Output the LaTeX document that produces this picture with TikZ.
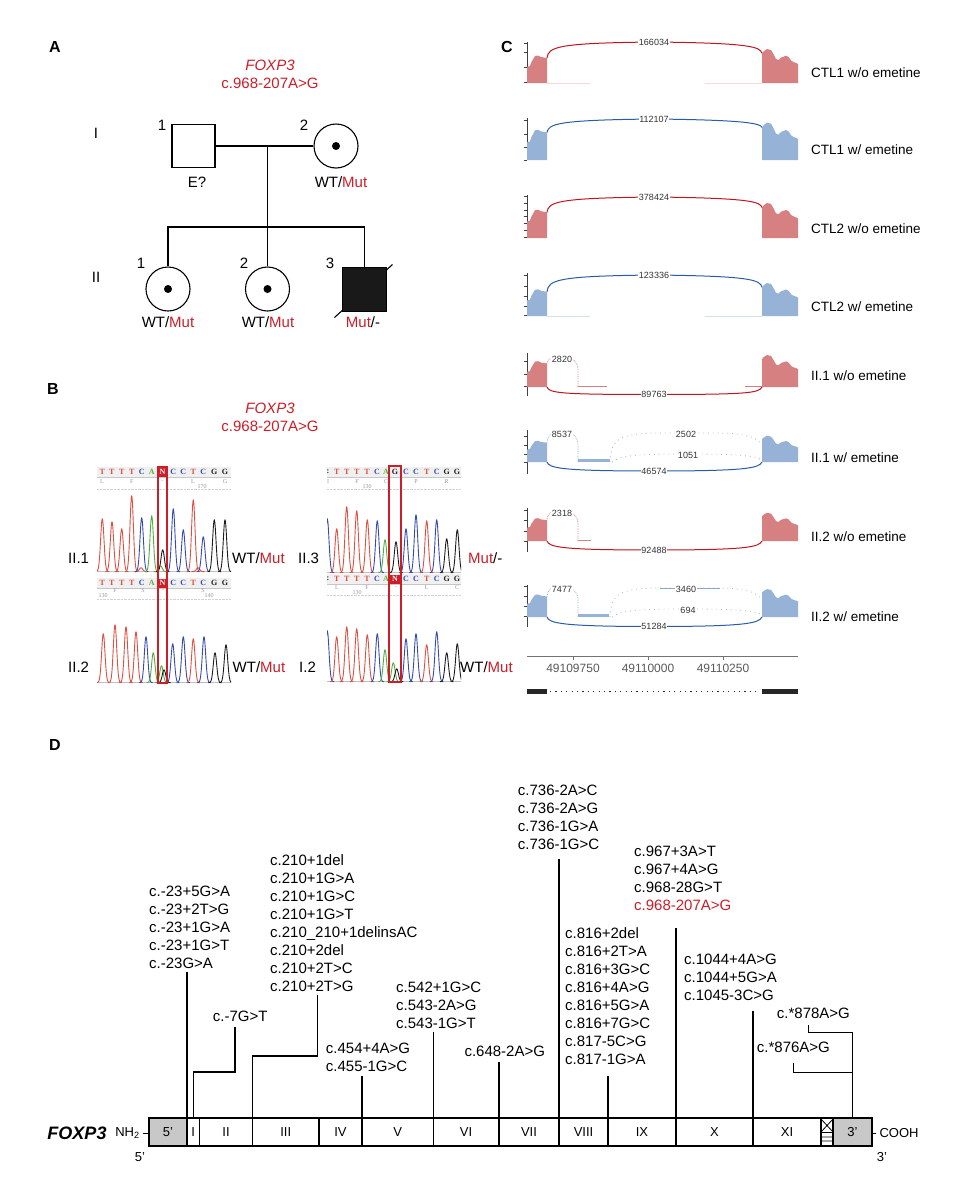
\documentclass[tikz,border=0pt]{standalone}
\usepackage{fontspec}
\setmainfont{Liberation Sans}
\newfontfamily\seqfont{Liberation Serif}
\usetikzlibrary{calc}
\definecolor{mutred}{RGB}{205,30,40}
\definecolor{sT}{RGB}{222,80,65}
\definecolor{sC}{RGB}{55,75,175}
\definecolor{sA}{RGB}{80,175,60}
\definecolor{sG}{RGB}{30,30,30}
\definecolor{fillR}{RGB}{214,128,130}
\definecolor{fillB}{RGB}{150,178,214}
\definecolor{arcR}{RGB}{190,22,32}
\definecolor{arcB}{RGB}{42,92,165}
\definecolor{boxgray}{RGB}{200,200,200}

\newcommand\pk[4]{\draw[#4, line width=.9pt, line join=round] plot[domain=-2.8:2.8, samples=21, smooth] ({#1+2.4*(\x)},{#2-#3*exp(-((\x)*(\x)))});}
\newcommand\hdr[3]{\foreach \xx/\ch/\cc [count=\k] in {#3} {\node[seq, text=\cc] (#2\k) at (\xx,#1) {\ch};}}
\newcommand\aarow[3]{\foreach \xx/\ch [count=\k] in {#3} {\node[aa] (#2\k) at (\xx,#1) {\ch};}}
\newcommand\cov[3]{%
\fill[#3] (527,#1) -- (527,{#1-16*#2}) -- (530,{#1-17*#2}) -- (531.5,{#1-21*#2}) -- (535,{#1-27*#2}) -- (538,{#1-27.5*#2}) -- (541,{#1-26*#2}) -- (544,{#1-25.5*#2}) -- (547,{#1-25*#2}) -- (547,#1) -- cycle;
\fill[#3] (762,#1) -- (762,{#1-29.7*#2}) -- (764,{#1-32*#2}) -- (767,{#1-34*#2}) -- (771,{#1-33*#2}) -- (773,{#1-29.7*#2}) -- (776,{#1-24*#2}) -- (778.5,{#1-23*#2}) -- (781,{#1-25.5*#2}) -- (784,{#1-26.5*#2}) -- (786,{#1-27.3*#2}) -- (788.5,{#1-26*#2}) -- (791.5,{#1-22*#2}) -- (794.5,{#1-20.5*#2}) -- (797,{#1-19.7*#2}) -- (798,{#1-18.7*#2}) -- (798,#1) -- cycle;}
\newcommand\toparc[5]{%
\draw[#3, line width=1pt] (547,{#1-25*#2}) .. controls (548.5,{#1-36}) and (556,{#1-40}) .. (654,{#1-41}) .. controls (752,{#1-40}) and (760,{#1-36}) .. (762,{#1-29.7*#2});
\node[num] (#5) at (654,{#1-41}) {#4};}
\newcommand\botarc[5]{%
\draw[#2, line width=1pt] (547,#1) .. controls (549,{#1+6}) and (560,{#1+#4}) .. (654,{#1+#4}) .. controls (748,{#1+#4}) and (759,{#1+6}) .. (762,#1);
\node[num] (#5) at (654,{#1+#4}) {#3};}
\newcommand\smallarc[5]{%
\draw[#3, densely dotted, line width=.7pt] (547,{#1-25*#2}) .. controls (548,{#1-29}) and (552,{#1-30}) .. (562,{#1-30}) .. controls (573,{#1-30}) and (577,{#1-26}) .. (578,{#1-18}) -- (578,#1);
\node[num] (#5) at (562,{#1-28}) {#4};}
\newcommand\longarcs[6]{%
\draw[#2, loosely dotted, line width=.8pt] (610,#1) .. controls (611,{#1-22}) and (618,{#1-29}) .. (660,{#1-29}) -- (715,{#1-29}) .. controls (748,{#1-29}) and (758,{#1-24}) .. (762,{#1-17});
\draw[#2, loosely dotted, line width=.8pt] (612,#1) .. controls (620,{#1-6}) and (632,{#1-8}) .. (686,{#1-8}) .. controls (740,{#1-8}) and (756,{#1-6}) .. (762,{#1-2});
\node[num] (#5) at (686,{#1-28}) {#3};
\node[num] (#6) at (688,{#1-7}) {#4};}

\begin{document}
\begin{tikzpicture}[x=1pt, y=-1pt,
  lab/.style={font=\fontsize{15}{18}\selectfont, inner sep=0pt},
  panel/.style={font=\fontsize{16}{19}\selectfont\bfseries, inner sep=0pt},
  sq/.style={draw, line width=1.1pt, minimum size=43pt, inner sep=0pt},
  circ/.style={draw, circle, line width=1.1pt, minimum size=44pt, inner sep=0pt},
  cdot/.style={circle, fill=black, minimum size=8pt, inner sep=0pt},
  pline/.style={line width=1.1pt},
  seq/.style={font=\fontsize{8}{9}\selectfont\seqfont\bfseries, inner sep=0.4pt},
  aa/.style={font=\fontsize{6}{7}\selectfont\seqfont, text=black!40, inner sep=0pt},
  num/.style={font=\fontsize{9}{10}\selectfont, inner sep=0.6pt, fill=white, text=black!80},
  trk/.style={font=\fontsize{13.5}{16}\selectfont, inner sep=0pt, anchor=west},
  ticklab/.style={font=\fontsize{12}{14}\selectfont, text=black!65, inner sep=0pt},
  axisc/.style={black!75, line width=.7pt},
  mut/.style={font=\fontsize{15}{18}\selectfont, inner sep=0pt, anchor=north west, align=left},
  mline/.style={line width=1.1pt},
  barl/.style={line width=1.6pt},
  exl/.style={font=\fontsize{13}{15}\selectfont, inner sep=0pt}]
\fill[white] (0,0) rectangle (980,1200);
\useasboundingbox (0,0) rectangle (980,1200);

% ================= Panel A =================
\node[panel] (pA) at (55,47) {A};
\node[lab, text=mutred, font=\fontsize{15}{18}\selectfont\itshape] (tA1) at (270,65) {FOXP3};
\node[lab, text=mutred] (tA2) at (270,83) {c.968-207A>G};
\node[lab] (gI) at (96,133) {I};
\node[lab] (gII) at (96,277) {II};
\node[sq] (I1) at (193.5,146) {};
\node[circ] (I2) at (336,146) {};
\node[cdot] (I2d) at (I2.center) {};
\coordinate (mar) at (267.5,146);
\coordinate (sib) at (267.5,227);
\draw[pline] (I1.east) -- (I2.west);
\draw[pline] (mar) -- (sib);
\coordinate (II3c) at (364.5,289.5);
\draw[pline] ($(II3c)+(-30,28)$) -- ($(II3c)+(28,-25)$);
\node[circ] (II1) at (168,289) {};
\node[circ] (II2) at (267.5,289) {};
\node[sq, fill=black!90, minimum size=44pt] (II3) at (II3c) {};
\node[cdot] (II1d) at (II1.center) {};
\node[cdot] (II2d) at (II2.center) {};
\draw[pline] (II1.north) |- (sib) -| (II3.north);
\draw[pline] (sib) -- (II2.north);
\node[lab] (nI1) at (162,125) {1};
\node[lab] (nI2) at (304,125) {2};
\node[lab] (nII1) at (141,263) {1};
\node[lab] (nII2) at (244,263) {2};
\node[lab] (nII3) at (330,263) {3};
\node[lab] (gtI1) at (197,182) {E?};
\node[lab] (gtI2) at (341,182) {WT/\textcolor{mutred}{Mut}};
\node[lab] (gtII1) at (168,322) {WT/\textcolor{mutred}{Mut}};
\node[lab] (gtII2) at (268,322) {WT/\textcolor{mutred}{Mut}};
\node[lab] (gtII3) at (363,322) {\textcolor{mutred}{Mut}/-};

% ================= Panel B =================
\node[panel] (pB) at (53,389) {B};
\node[lab, text=mutred, font=\fontsize{15}{18}\selectfont\itshape] (tB1) at (270,408) {FOXP3};
\node[lab, text=mutred] (tB2) at (270,426) {c.968-207A>G};

% headers
\fill[gray!12] (97,467) rectangle (231,477);
\fill[gray!12] (97,578) rectangle (231,588);
\fill[gray!12] (327,467) rectangle (461,477);
\fill[gray!12] (327,574) rectangle (461,584);
\draw[gray!45, line width=.5pt] (97,477.5) -- (231,477.5) (97,588.5) -- (231,588.5) (327,477.5) -- (461,477.5) (327,584.5) -- (461,584.5);
\draw[gray!35, densely dotted, line width=.4pt] (97,489) -- (231,489) (97,599) -- (231,599) (327,489) -- (461,489) (327,595) -- (461,595);
\fill[mutred] (158.5,467.5) rectangle (166.5,477);
\fill[mutred] (158.5,578.5) rectangle (166.5,588);
\fill[mutred] (390,574.5) rectangle (400,584);
\hdr{472}{hA}{102.3/T/sT,111.7/T/sT,121.7/T/sT,131.7/T/sT,141.7/C/sC,151.7/A/sA,162.5/N/white,173.3/C/sC,183.3/C/sC,193.3/T/sT,203.3/C/sC,214.3/G/sG,225/G/sG}
\hdr{583}{hB}{102.3/T/sT,111.7/T/sT,121.7/T/sT,131.7/T/sT,141.7/C/sC,151.7/A/sA,162.5/N/white,173.3/C/sC,183.3/C/sC,193.3/T/sT,203.3/C/sC,214.3/G/sG,225/G/sG}
\hdr{472}{hC}{328/:/sG,336.7/T/sT,346.7/T/sT,356.7/T/sT,367/T/sT,377/C/sC,386/A/sA,395/G/sG,406/C/sC,416/C/sC,426.7/T/sT,436.7/C/sC,446.7/G/sG,457/G/sG}
\hdr{579}{hD}{328/:/sG,336.7/T/sT,346.7/T/sT,356.7/T/sT,367/T/sT,377/C/sC,386/A/sA,395/N/white,406/C/sC,416/C/sC,426.7/T/sT,436.7/C/sC,446.7/G/sG,457/G/sG}
\aarow{481.5}{aA}{102/L,131.7/F,162.7/-,193/L,225/G}
\aarow{591}{aB}{115/F,143/S,163/-,203/S}
\aarow{481.5}{aC}{328/I,357/F,386/C,416/P,446.7/R}
\aarow{588}{aD}{337/L,367/F,396/-,426.7/L,457/C}
\node[aa] (aA6) at (202,486.5) {170};
\node[aa] (aB5) at (103,596) {130};
\node[aa] (aB6) at (209,596) {140};
\node[aa] (aC6) at (367,486.5) {130};
\node[aa] (aD6) at (357,592.5) {130};

% chromatograms
\begin{scope}
\clip (97,490) rectangle (231,574);
\draw[black!25, line width=.6pt] (97,571.5) -- (231,571.5);
\foreach \xx/\hh/\cc in {102.3/53/sT,112/50/sT,121.7/43/sT,131.7/76/sT,141/4/sT,141.7/54/sC,151.7/56/sA,160.5/6/sA,162.7/22/sG,173.3/63/sC,183.3/42/sC,193.3/72/sT,198/4/sT,203.3/35/sC,214.3/52/sG,225/52/sG} {\pk{\xx}{571.7}{\hh}{\cc}}
\end{scope}
\begin{scope}
\clip (97,600) rectangle (231,685);
\draw[black!25, line width=.6pt] (97,682.5) -- (231,682.5);
\foreach \xx/\hh/\cc in {103.3/49/sT,115/58/sT,126/56/sT,136/51/sT,146/46/sC,153.3/30/sA,161.5/17/sA,164/13/sG,172.7/39/sC,183.3/46/sC,193.3/44/sT,204/46/sC,215/30/sG,226/38/sG} {\pk{\xx}{682.7}{\hh}{\cc}}
\end{scope}
\begin{scope}
\clip (327,490) rectangle (461,575);
\draw[black!25, line width=.6pt] (327,572.5) -- (461,572.5);
\foreach \xx/\hh/\cc in {327.3/54/sC,336.7/44/sT,346.7/66/sT,356.7/62/sT,367.3/53/sT,377.3/52/sC,385/33/sA,396/31/sG,406/44/sC,416/58/sC,426.7/52/sT,436.7/53/sC,446.7/34/sG,457.3/43/sG} {\pk{\xx}{572.7}{\hh}{\cc}}
\end{scope}
\begin{scope}
\clip (327,596) rectangle (461,684);
\draw[black!25, line width=.6pt] (327,681.5) -- (461,681.5);
\foreach \xx/\hh/\cc in {327.3/51/sC,336.7/45/sT,346.7/55/sT,356.7/53/sT,367.3/47/sT,377.3/48/sC,385/32/sA,393.3/19/sA,396.7/13/sG,406/43/sC,416/48/sC,426.7/37/sT,436.7/50/sC,446.7/29/sG,457.3/38/sG} {\pk{\xx}{681.7}{\hh}{\cc}}
\end{scope}
\draw[mutred, line width=1.8pt] (158,467) rectangle (167,683);
\draw[mutred, line width=1.8pt] (389,466) rectangle (401,682);

\node[lab, anchor=west] (sB1) at (68,558) {II.1};
\node[lab, anchor=west] (gB1) at (232,558) {WT/\textcolor{mutred}{Mut}};
\node[lab, anchor=west] (sB3) at (298,558) {II.3};
\node[lab, anchor=west] (gB3) at (468,558) {\textcolor{mutred}{Mut}/-};
\node[lab, anchor=west] (sB2) at (68,667) {II.2};
\node[lab, anchor=west] (gB2) at (232.5,667) {WT/\textcolor{mutred}{Mut}};
\node[lab, anchor=west] (sB4) at (299,667) {I.2};
\node[lab, anchor=west] (gB4) at (460,667) {WT/\textcolor{mutred}{Mut}};

% ================= Panel C =================
\node[panel] (pC) at (507,47) {C};
% track 1
\draw[axisc] (527,42) -- (527,83);
\foreach \t in {43.3,52.7,67.7,82.3} \draw[axisc] (523.5,\t) -- (527,\t);
\cov{83}{1}{fillR}
\draw[fillR!30, line width=.5pt] (547,83) -- (590,83) (705,83) -- (762,83);
\toparc{83}{1}{arcR}{166034}{c1}
\node[trk] (L1) at (811,73) {CTL1 w/o emetine};
% track 2
\draw[axisc] (527,118) -- (527,160);
\foreach \t in {120.7,134,147.3,160} \draw[axisc] (523.5,\t) -- (527,\t);
\cov{160}{1.1}{fillB}
\toparc{160}{1.1}{arcB}{112107}{c2}
\node[trk] (L2) at (811,150) {CTL1 w/ emetine};
% track 3
\draw[axisc] (527,195) -- (527,238);
\foreach \t in {196.7,203.3,210,216.7,223.3,230,237.5} \draw[axisc] (523.5,\t) -- (527,\t);
\cov{238}{1.03}{fillR}
\toparc{238}{1.03}{arcR}{378424}{c3}
\node[trk] (L3) at (811,229) {CTL2 w/o emetine};
% track 4
\draw[axisc] (527,273) -- (527,316);
\foreach \t in {275,286,296,306,315.5} \draw[axisc] (523.5,\t) -- (527,\t);
\cov{316}{0.97}{fillB}
\draw[fillB!40, line width=.5pt] (547,316) -- (590,316) (705,316) -- (762,316);
\toparc{316}{0.97}{arcB}{123336}{c4}
\node[trk] (L4) at (811,307) {CTL2 w/ emetine};
% track 5
\draw[axisc] (527,353) -- (527,396);
\foreach \t in {361.7,374.3,386.7} \draw[axisc] (523.5,\t) -- (527,\t);
\cov{387}{0.94}{fillR}
\fill[fillR] (578,385.8) rectangle (607,387);
\fill[fillR] (745,385.8) rectangle (762,387);
\smallarc{387}{0.94}{arcR!60}{2820}{s5}
\botarc{387}{arcR}{89763}{7.5}{c5}
\node[trk] (L5) at (811,376) {II.1 w/o emetine};
% track 6
\draw[axisc] (527,430) -- (527,474);
\foreach \t in {436.7,445,454,462} \draw[axisc] (523.5,\t) -- (527,\t);
\cov{462}{0.77}{fillB}
\fill[fillB] (578,459) rectangle (610,462);
\smallarc{462}{0.77}{arcB!55}{8537}{s6}
\longarcs{462}{arcB!45}{2502}{1051}{u6}{w6}
\botarc{462}{arcB}{46574}{9}{c6}
\node[trk] (L6) at (811,458) {II.1 w/ emetine};
% track 7
\draw[axisc] (527,508) -- (527,552);
\foreach \t in {510,520,531,541} \draw[axisc] (523.5,\t) -- (527,\t);
\cov{541}{0.83}{fillR}
\fill[fillR] (578,539.8) rectangle (591,541);
\smallarc{541}{0.83}{arcR!60}{2318}{s7}
\botarc{541}{arcR}{92488}{9}{c7}
\node[trk] (L7) at (811,537) {II.2 w/o emetine};
% track 8
\draw[axisc] (527,585) -- (527,627);
\foreach \t in {586.7,596.7,606.7,616.5} \draw[axisc] (523.5,\t) -- (527,\t);
\cov{617}{0.82}{fillB}
\fill[fillB] (578,614) rectangle (609,617);
\smallarc{617}{0.82}{arcB!55}{7477}{s8}
\draw[arcB!55, line width=.8pt] (660,588) -- (720,588);
\longarcs{617}{arcB!45}{3460}{694}{u8}{w8}
\botarc{617}{arcB}{51284}{9.5}{c8}
\node[trk] (L8) at (811,617) {II.2 w/ emetine};
% genomic axis
\draw[black!55, line width=.7pt] (527,656) -- (798,656);
\foreach \xx in {573,648,723} \draw[black!55, line width=.7pt] (\xx,656) -- (\xx,660);
\node[ticklab] (x1) at (573,668) {49109750};
\node[ticklab] (x2) at (648,668) {49110000};
\node[ticklab] (x3) at (723,668) {49110250};
% gene model
\fill[black!85] (527,689) rectangle (547,693.5);
\fill[black!85] (762,689) rectangle (798,693.5);
\draw[black!85, line width=1.2pt, dash pattern=on 1.2pt off 4.2pt] (550,691.2) -- (760,691.2);

% ================= Panel D =================
\node[panel] (pD) at (55,745) {D};
\fill[boxgray] (149,1118) rectangle (187,1146);
\fill[boxgray] (833,1118) rectangle (872,1146);
\draw[barl] (149,1118) rectangle (872,1146);
\foreach \b in {187,199.5,252.5,319,362,433.5,499,559,608,676,753,821,833} \draw[barl] (\b,1118) -- (\b,1146);
\draw[line width=.8pt] (821,1119) -- (833,1132) (833,1119) -- (821,1132) (821,1132.5) -- (833,1132.5) (821,1137) -- (833,1137) (821,1141) -- (833,1141);
\foreach \xx/\lbl [count=\k] in {168/5',193.3/I,226/II,285.7/III,340.5/IV,397.7/V,466/VI,529/VII,583.5/VIII,642/IX,714.5/X,787/XI,852.5/3'} {\node[exl] (ex\k) at (\xx,1132) {\lbl};}
\node[font=\fontsize{18}{20}\selectfont\bfseries\itshape, inner sep=0pt] (gene) at (77,1133) {FOXP3};
\node[exl] (nh) at (127.5,1133) {NH\textsubscript{2}};
\node[exl] (cooh) at (899,1133) {COOH};
\node[exl] (p5) at (140,1157) {5'};
\node[exl] (p3) at (882,1157) {3'};
\draw[line width=.8pt] (nh.east) ++(3,0) -- (149,1133);
\draw[line width=.8pt] (872,1133) -- ($(cooh.west)+(-3,0)$);

\node[mut] (g1) at (149,886) {c.-23+5G>A\\c.-23+2T>G\\c.-23+1G>A\\c.-23+1G>T\\c.-23G>A};
\node[mut] (g2) at (212.7,1010.5) {c.-7G>T};
\node[mut] (g3) at (270,854.5) {c.210+1del\\c.210+1G>A\\c.210+1G>C\\c.210+1G>T\\c.210\_210+1delinsAC\\c.210+2del\\c.210+2T>C\\c.210+2T>G};
\node[mut] (g4) at (325.7,1042.8) {c.454+4A>G\\c.455-1G>C};
\node[mut] (g5) at (396,982.2) {c.542+1G>C\\c.543-2A>G\\c.543-1G>T};
\node[mut] (g6) at (464.3,1045.5) {c.648-2A>G};
\node[mut] (g7) at (517.7,784.5) {c.736-2A>C\\c.736-2A>G\\c.736-1G>A\\c.736-1G>C};
\node[mut] (g8) at (565,927.8) {c.816+2del\\c.816+2T>A\\c.816+3G>C\\c.816+4A>G\\c.816+5G>A\\c.816+7G>C\\c.817-5C>G\\c.817-1G>A};
\node[mut] (g9) at (634,846.2) {c.967+3A>T\\c.967+4A>G\\c.968-28G>T\\\textcolor{mutred}{c.968-207A>G}};
\node[mut] (g10) at (684,953.5) {c.1044+4A>G\\c.1044+5G>A\\c.1045-3C>G};
\node[mut] (g11) at (776.7,1007.8) {c.*878A>G};
\node[mut] (g12) at (756.7,1041.8) {c.*876A>G};

\coordinate (t1) at (187,972);    \coordinate (b1) at (187,1118);
\coordinate (t2) at (235,1027);   \coordinate (k2) at (193.3,1072); \coordinate (b2) at (193.3,1118);
\coordinate (t3) at (317.3,995);  \coordinate (k3) at (252.5,1056); \coordinate (b3) at (252.5,1118);
\coordinate (t4) at (362,1076);   \coordinate (b4) at (362,1118);
\coordinate (t5) at (433.5,1031.7); \coordinate (b5) at (433.5,1118);
\coordinate (t6) at (499,1062);   \coordinate (b6) at (499,1118);
\coordinate (t7) at (559,859);    \coordinate (b7) at (559,1118);
\coordinate (t8) at (608,1076);   \coordinate (b8) at (608,1118);
\coordinate (t9) at (676,928.3);  \coordinate (b9) at (676,1118);
\coordinate (t10) at (753,1010.7); \coordinate (b10) at (753,1118);
\coordinate (t11) at (808.3,1025); \coordinate (k11) at (852.3,1032.7); \coordinate (b11) at (852.3,1118);
\coordinate (t12) at (793.3,1063.3); \coordinate (k12) at (852.3,1072.7);
\draw[mline] (t1) -- (b1);
\draw[mline] (t2) |- (k2) -- (b2);
\draw[mline] (t3) |- (k3) -- (b3);
\draw[mline] (t4) -- (b4);
\draw[mline] (t5) -- (b5);
\draw[mline] (t6) -- (b6);
\draw[mline] (t7) -- (b7);
\draw[mline] (t8) -- (b8);
\draw[mline] (t9) -- (b9);
\draw[mline] (t10) -- (b10);
\draw[mline] (t11) |- (k11) -- (b11);
\draw[mline] (t12) |- (k12);
\end{tikzpicture}
\end{document}
